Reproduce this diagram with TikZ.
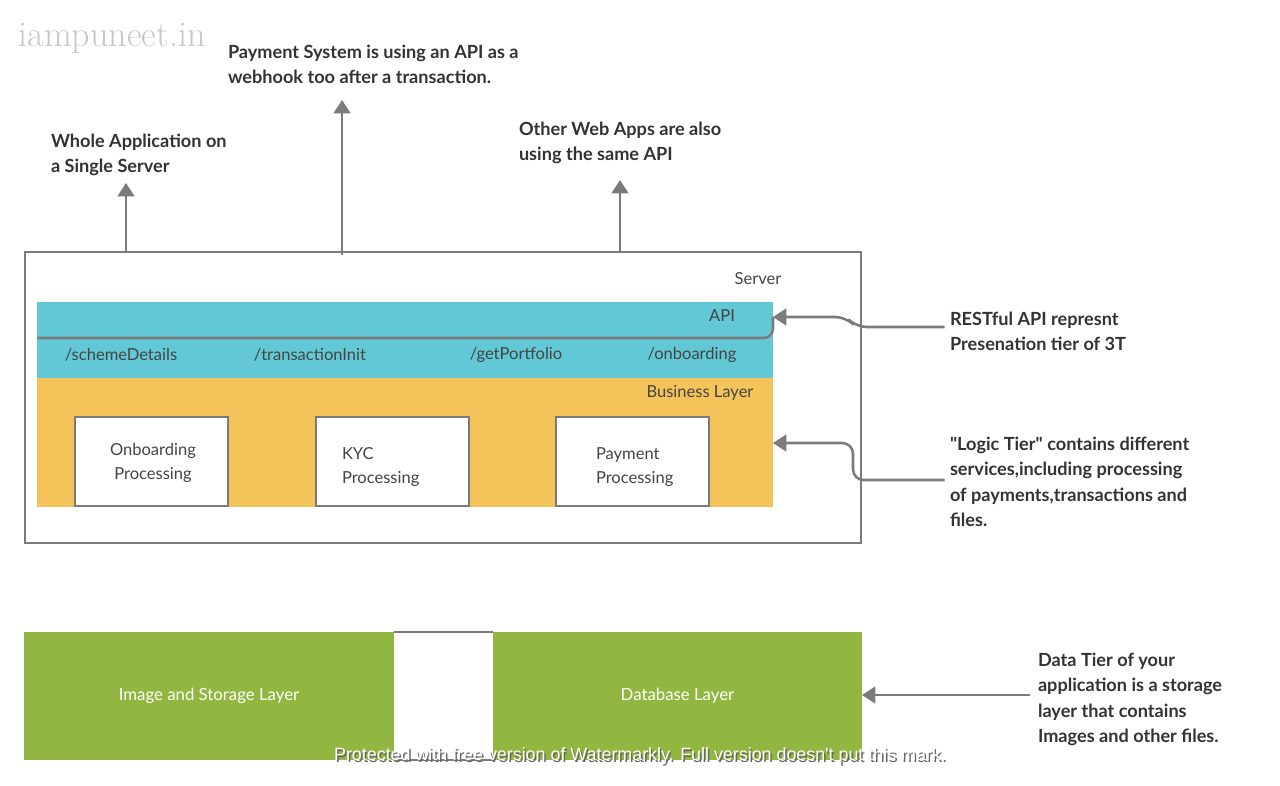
\documentclass[tikz,border=0pt]{standalone}
\usepackage{fontspec}
\setmainfont{Lato}
\newfontfamily\wmfont{Liberation Sans}
\newfontfamily\blogfont{Latin Modern Roman}
\usetikzlibrary{arrows.meta}
\definecolor{apiblue}{HTML}{62C8D5}
\definecolor{bizyellow}{HTML}{F4C45A}
\definecolor{datagreen}{HTML}{92B740}
\definecolor{linegray}{HTML}{7B7B7B}
\definecolor{txtgray}{HTML}{444444}
\definecolor{notegray}{HTML}{333333}
\begin{document}
\begin{tikzpicture}[x=0.75pt, y=-0.75pt,
  every node/.style={inner sep=0, outer sep=0},
  layer/.style={anchor=north west, draw=none},
  procbox/.style={anchor=north west, draw=linegray, line width=1.5pt, fill=white, minimum width=114.75pt, minimum height=66.75pt},
  lbl/.style={text=txtgray, font=\fontsize{12.4}{18}\selectfont, align=left},
  note/.style={anchor=north west, text=notegray, font=\fontsize{13.6}{19}\selectfont\bfseries, align=left},
  conn/.style={draw=linegray, line width=1.9pt},
  arr/.style={conn, -{Triangle[width=12.5pt, length=10pt]}}]
\useasboundingbox (0,0) rectangle (1280,785);

% watermark of the blog
\node[text=black!22, font=\blogfont\fontsize{27}{27}\selectfont] (blog) at (112,38) {iampuneet.in};

% server and its layers
\node[layer, fill=apiblue, minimum width=552pt, minimum height=57pt] (api) at (37,302) {};
\node[layer, fill=bizyellow, minimum width=552pt, minimum height=96.75pt] (biz) at (37,378) {};
\node[anchor=north west, draw=linegray, line width=1.5pt, minimum width=627pt, minimum height=218.25pt] (server) at (25,252) {};
\node[lbl] (srvlbl) at (758,279) {Server};
\node[lbl] (apilbl) at (722,316) {API};
\node[lbl] (bizlbl) at (700,393) {Business Layer};

\draw[conn, rounded corners=7pt] (api.west |- 0,338) -- (773,338) -- (773,317);
\node[lbl] (ep1) at (121,355) {/schemeDetails};
\node[lbl] (ep2) at (310,355) {/transactionInit};
\node[lbl] (ep3) at (516,355) {/getPortfolio};
\node[lbl] (ep4) at (692,355) {/onboarding};

\node[procbox] (onb) at (75,417) {};
\node[procbox] (kyc) at (316,417) {};
\node[procbox] (pay) at (556,417) {};
\node[lbl, align=center] (onbtxt) at (153,463) {Onboarding\\Processing};
\node[lbl, anchor=west] (kyctxt) at (342,467) {KYC\\Processing};
\node[lbl, anchor=west] (paytxt) at (596,467) {Payment\\Processing};

% data tier
\node[layer, fill=datagreen, minimum width=277.5pt, minimum height=96pt] (img) at (24,632) {};
\node[layer, fill=datagreen, minimum width=276.75pt, minimum height=96pt] (db) at (493,632) {};
\draw[conn, line width=1.5pt] (img.north east) -- (db.north west);
\draw[conn, line width=1.5pt] (img.south east) -- (db.south west);
\node[text=white, font=\fontsize{12.6}{18}\selectfont] (imgtxt) at (img.center) {Image and Storage Layer};
\node[text=white, font=\fontsize{12.6}{18}\selectfont] (dbtxt) at (db.center) {Database Layer};

% notes
\node[note] (whole) at (51,134) {Whole Application on\\a Single Server};
\node[note] (paysys) at (228,45) {Payment System is using an API as a\\webhook too after a transaction.};
\node[note] (other) at (519,122) {Other Web Apps are also\\using the same API};
\node[note] (rest) at (950,312) {RESTful API represnt\\Presenation tier of 3T};
\node[note] (logic) at (950,437) {\textquotedbl Logic Tier\textquotedbl{} contains different\\services,including processing\\of payments,transactions and\\files.};
\node[note] (data) at (1038,653) {Data Tier of your\\application is a storage\\layer that contains\\Images and other files.};

% connectors
\draw[arr] (server.north -| 126,0) -- (126,183);
\draw[arr] (342,255) -- (342,100);
\draw[arr] (server.north -| 620,0) -- (620,180);
\draw[arr, rounded corners=8pt] ([xshift=-4pt]rest.west |- 0,327) -- (856,327) -- (846,317) -- (api.east |- 0,317);
\draw[arr, rounded corners=8pt] ([xshift=-4pt]logic.west |- 0,480) -- (853,480) -- (853,443) -- (biz.east |- 0,443);
\draw[arr] ([xshift=-6pt]data.west |- 0,695) -- (db.east |- 0,695);

% watermark of the tool
\node[text=black!60, font=\wmfont\fontsize{13.4}{13.4}\selectfont] (wmshadow) at (641.5,757.5) {Protected with free version of Watermarkly. Full version doesn't put this mark.};
\node[text=white, font=\wmfont\fontsize{13.4}{13.4}\selectfont] (wm) at (640,756) {Protected with free version of Watermarkly. Full version doesn't put this mark.};
\end{tikzpicture}
\end{document}
